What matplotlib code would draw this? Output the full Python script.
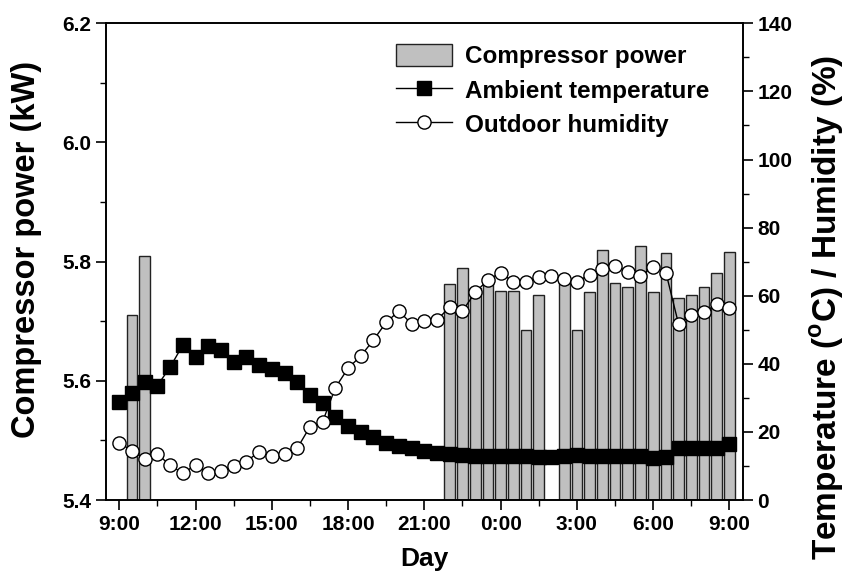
import matplotlib
matplotlib.use("Agg")
import matplotlib.pyplot as plt
import numpy as np
from matplotlib.ticker import MultipleLocator

plt.rcParams['font.family'] = ['Liberation Sans', 'DejaVu Sans']
plt.rcParams['font.weight'] = 'bold'
plt.rcParams['mathtext.fontset'] = 'custom'
plt.rcParams['mathtext.rm'] = 'Liberation Sans:bold'
plt.rcParams['mathtext.bf'] = 'Liberation Sans:bold'

# half-hour samples from 9:00 to 9:00 next day (hours after 9:00)
hours = np.arange(49) * 0.5

temperature = [28.7, 31.5, 34.8, 33.6, 39.0, 45.5, 42.1, 45.2, 44.1, 40.6,
               41.9, 39.7, 38.5, 37.2, 34.8, 30.8, 28.4, 24.3, 21.7, 20.1,
               18.4, 16.8, 16.0, 15.2, 14.5, 13.9, 13.5, 13.3, 13.0, 12.9,
               12.8, 12.8, 12.8, 12.7, 12.7, 12.8, 13.1, 12.9, 12.9, 12.9,
               12.9, 13.0, 12.2, 12.7, 15.3, 15.2, 15.4, 15.2, 16.5]

humidity = [16.8, 14.5, 12.0, 13.4, 10.3, 7.8, 10.3, 8.0, 8.6, 10.0,
            11.3, 14.2, 12.9, 13.5, 15.2, 21.5, 23.0, 33.0, 38.7, 42.3,
            47.0, 52.2, 55.5, 51.7, 52.6, 52.9, 56.7, 55.5, 61.0, 64.6,
            66.8, 64.0, 64.1, 65.6, 65.9, 64.9, 64.1, 66.2, 67.8, 68.8,
            67.1, 65.8, 68.5, 66.8, 51.6, 54.3, 55.1, 57.6, 56.5]

# compressor running periods (hours after 9:00) and power in kW
power_hours = [0.5, 1.0, 13.0, 13.5, 14.0, 14.5, 15.0, 15.5, 16.0, 16.5,
               17.5, 18.0, 18.5, 19.0, 19.5, 20.0, 20.5, 21.0, 21.5, 22.0,
               22.5, 23.0, 23.5, 24.0]
power = [5.710, 5.810, 5.763, 5.789, 5.755, 5.765, 5.750, 5.750, 5.686, 5.744,
         5.765, 5.686, 5.749, 5.819, 5.765, 5.757, 5.826, 5.749, 5.815, 5.739,
         5.744, 5.757, 5.781, 5.817]

tick_labels = ['9:00', '12:00', '15:00', '18:00', '21:00',
               '0:00', '3:00', '6:00', '9:00']

fig = plt.figure(figsize=(8.46, 5.8), dpi=100)
ax = fig.add_axes([0.1253, 0.1379, 0.7529, 0.8219])

ymin = 5.4
ax.bar(power_hours, np.array(power) - ymin, bottom=ymin, width=0.42,
       color='#c0c0c0', edgecolor='#222222', linewidth=1.0,
       label='Compressor power')
ax.set_xlim(-0.52, 24.53)
ax.set_ylim(5.4, 6.2)
ax.yaxis.set_major_locator(MultipleLocator(0.2))
ax.yaxis.set_minor_locator(MultipleLocator(0.1))
ax.set_xticks(np.arange(0, 25, 3))
ax.set_xticklabels(tick_labels)
ax.xaxis.set_minor_locator(MultipleLocator(1.5))
ax.set_ylabel('Compressor power (kW)', fontsize=23.5, fontweight='bold')
ax.yaxis.set_label_coords(-0.101, 0.525)
ax.set_xlabel('Day', fontsize=19, fontweight='bold', labelpad=10)

ax2 = ax.twinx()
ax2.plot(hours, temperature, color='black', lw=1.0, marker='s', ms=10,
         mfc='black', mec='black', label='Ambient temperature')
ax2.plot(hours, humidity, color='black', lw=1.0, marker='o', ms=9.5,
         mfc='white', mec='black', mew=1.0, label='Outdoor humidity')
ax2.set_ylim(0, 140)
ax2.yaxis.set_major_locator(MultipleLocator(20))
ax2.yaxis.set_minor_locator(MultipleLocator(10))
ax2.set_ylabel(r'Temperature ($^{\mathbf{o}}$C) / Humidity (%)',
               fontsize=24, fontweight='bold')
ax2.yaxis.set_label_coords(1.103, 0.405)

for a in (ax, ax2):
    for s in a.spines.values():
        s.set_linewidth(1.2)
    a.tick_params(which='major', direction='out', length=7, width=1.2,
                  labelsize=15)
    a.tick_params(which='minor', direction='out', length=4, width=1.0)
    for lbl in a.get_xticklabels() + a.get_yticklabels():
        lbl.set_fontweight('bold')

h1, l1 = ax.get_legend_handles_labels()
h2, l2 = ax2.get_legend_handles_labels()
ax2.legend(h1 + h2, l1 + l2, loc='upper left', bbox_to_anchor=(0.423, 1.0),
           frameon=False, handlelength=2.3, handleheight=1.0,
           handletextpad=0.55, labelspacing=0.42, borderaxespad=0.45,
           prop={'weight': 'bold', 'size': 17.5})

fig.savefig('out.png', dpi=100)
